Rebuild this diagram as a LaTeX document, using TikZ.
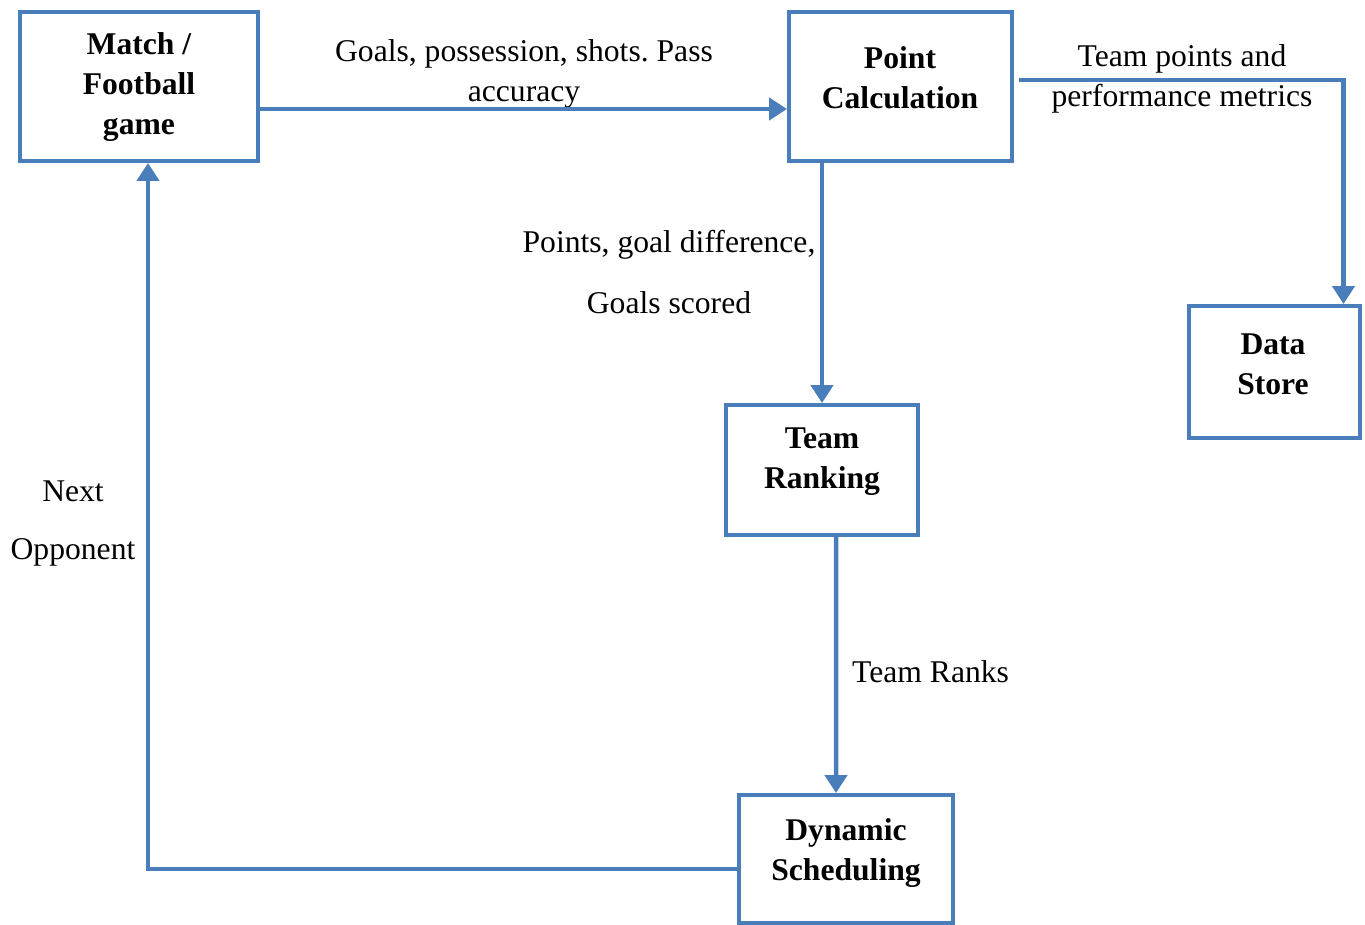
\documentclass[tikz,border=0pt]{standalone}
\usepackage{fontspec}
\setmainfont{Liberation Serif}
\usepackage{tikz}
\usetikzlibrary{arrows.meta, calc}

\definecolor{flowblue}{RGB}{74,126,187}
\frenchspacing

\begin{document}
\begin{tikzpicture}[x=0.02cm, y=-0.02cm,
    block/.style={rectangle, draw=flowblue, line width=0.08cm, inner sep=0pt},
    title/.style={align=center, font=\fontsize{18}{22.7}\selectfont\bfseries},
    note/.style={align=center, font=\fontsize{18}{22.7}\selectfont},
    line/.style={draw=flowblue, line width=0.09cm, -{Triangle[length=0.36cm, width=0.44cm]}}]

    \useasboundingbox (0,0) rectangle (1365,924);

    % boxes
    \node [block, minimum width=4.76cm, minimum height=2.98cm] (match) at (139,86.5) {};
    \node [block, minimum width=4.46cm, minimum height=2.98cm] (point) at (900.5,86.5) {};
    \node [block, minimum width=3.42cm, minimum height=2.64cm] (data) at (1274.5,372) {};
    \node [block, minimum width=3.84cm, minimum height=2.60cm] (team) at (822,470) {};
    \node [block, minimum width=4.28cm, minimum height=2.56cm] (dynamic) at (846,859) {};

    % box titles
    \node [title] (match_t) at (139,87) {Match /\\Football\\game};
    \node [title] (point_t) at (900,78) {Point\\Calculation};
    \node [title] (data_t) at (1273,364) {Data\\Store};
    \node [title] (team_t) at (822,462) {Team\\Ranking};
    \node [title] (dynamic_t) at (846,853) {Dynamic\\Scheduling};

    % flow labels
    \node [note] (l_stats) at (524,74) {Goals, possession, shots. Pass\\accuracy};
    \node [note] (l_metrics) at (1182,79) {Team points and\\performance metrics};
    \node [note] (l_points) at (669,272) {Points, goal difference,\\[0.42cm]Goals scored};
    \node [note, anchor=west] (l_ranks) at (846,672) {Team Ranks};
    \node [note] (l_next) at (73,523.5) {Next\\[0.38cm]Opponent};

    % connectors
    \path [line] ([yshift=-0.45cm]match.east) -- ([yshift=-0.45cm]point.west);
    \path [line] ([shift={(0.1cm,0.13cm)}]point.east) -| ([xshift=1.38cm]data.north);
    \path [line] (point.south -| team.north) -- (team.north);
    \path [line] ([xshift=0.28cm]team.south) -- ([xshift=-0.2cm]dynamic.north);
    \path [line] ([yshift=-0.2cm]dynamic.west) -| ([xshift=0.18cm]match.south);
\end{tikzpicture}
\end{document}
